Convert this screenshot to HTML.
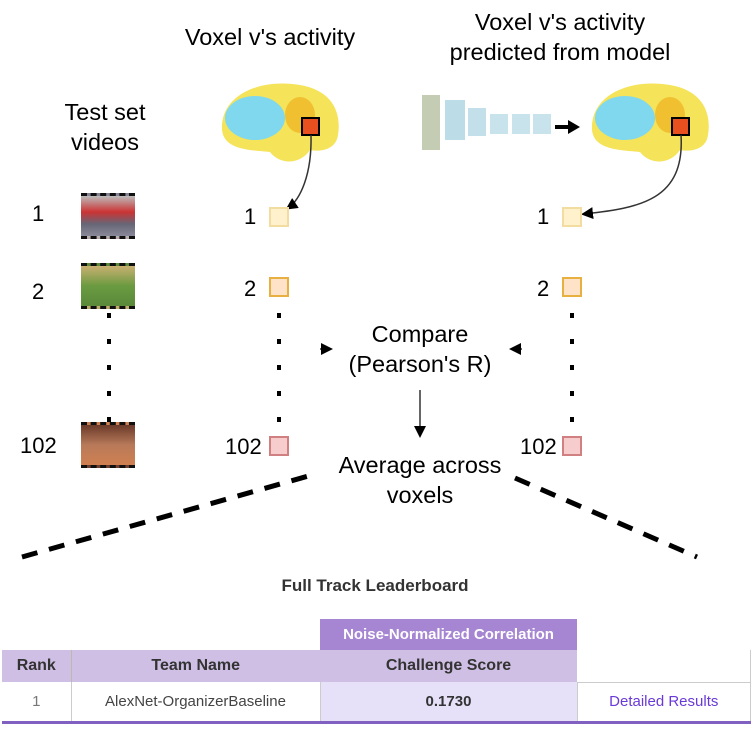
<!DOCTYPE html>
<html><head><style>
body{margin:0;width:756px;height:729px;background:#fff;position:relative;overflow:hidden;font-family:"Liberation Sans",sans-serif}
.t{position:absolute;font-size:23.5px;color:#000;text-align:center;line-height:30px}
.n{position:absolute;font-size:22px;color:#000}
.sq{position:absolute;width:16px;height:16px;border:2px solid}
.th{position:absolute;width:54px;height:46px;background:#555;border-top:3px dashed #111;border-bottom:3px dashed #111;box-sizing:border-box}
table{position:absolute;left:2px;top:619px;width:749px;border-collapse:collapse;font-size:15px;color:#333}
td{text-align:center;padding:0}
</style></head><body>
<div class="t" style="left:160px;top:22px;width:220px">Voxel v's activity</div>
<div class="t" style="left:410px;top:7px;width:300px">Voxel v's activity<br>predicted from model</div>
<div class="t" style="left:40px;top:97px;width:130px">Test set<br>videos</div>
<div class="t" style="left:310px;top:319px;width:220px">Compare<br>(Pearson's R)</div>
<div class="t" style="left:310px;top:450px;width:220px">Average across<br>voxels</div>

<svg width="756" height="620" style="position:absolute;left:0;top:0">
<defs><marker id="a" markerWidth="8" markerHeight="8" refX="6" refY="4" orient="auto"><path d="M0,0L8,4L0,8z" fill="#000"/></marker></defs>
<g>
<path d="M222,130 C220,95 260,78 300,85 C330,90 342,110 338,135 C336,150 320,152 310,150 C300,165 280,165 270,152 C250,150 224,150 222,130z" fill="#f5e35a"/>
<ellipse cx="255" cy="118" rx="30" ry="22" fill="#7fd8ee"/>
<ellipse cx="300" cy="115" rx="15" ry="18" fill="#f0c030"/>
<rect x="302" y="118" width="17" height="17" fill="#e85020" stroke="#000" stroke-width="2"/>
<path d="M592,130 C590,95 630,78 670,85 C700,90 712,110 708,135 C706,150 690,152 680,150 C670,165 650,165 640,152 C620,150 594,150 592,130z" fill="#f5e35a"/>
<ellipse cx="625" cy="118" rx="30" ry="22" fill="#7fd8ee"/>
<ellipse cx="670" cy="115" rx="15" ry="18" fill="#f0c030"/>
<rect x="672" y="118" width="17" height="17" fill="#e85020" stroke="#000" stroke-width="2"/>
<rect x="422" y="95" width="18" height="55" fill="#b5bfa0" opacity=".8"/>
<rect x="445" y="100" width="20" height="40" fill="#bcdde8"/>
<rect x="468" y="108" width="18" height="28" fill="#c3e0ea"/>
<rect x="490" y="114" width="18" height="20" fill="#c8e3ec"/>
<rect x="512" y="114" width="18" height="20" fill="#c8e3ec"/>
<rect x="533" y="114" width="18" height="20" fill="#c8e3ec"/>
<line x1="555" y1="127" x2="570" y2="127" stroke="#000" stroke-width="4"/>
<path d="M568,120 L580,127 L568,134z" fill="#000"/>
<path d="M311,135 C312,175 300,200 288,208" fill="none" stroke="#333" stroke-width="1.5" marker-end="url(#a)"/>
<path d="M681,135 C685,200 640,208 584,214" fill="none" stroke="#333" stroke-width="1.5" marker-end="url(#a)"/>
<line x1="420" y1="390" x2="420" y2="435" stroke="#333" stroke-width="1.5" marker-end="url(#a)"/>
<line x1="320" y1="349" x2="330" y2="349" stroke="#333" stroke-width="1.5" marker-end="url(#a)"/>
<line x1="522" y1="349" x2="512" y2="349" stroke="#333" stroke-width="1.5" marker-end="url(#a)"/>
<g fill="#000">
<rect x="107" y="313" width="4" height="5"/><rect x="107" y="339" width="4" height="5"/><rect x="107" y="365" width="4" height="5"/><rect x="107" y="391" width="4" height="5"/><rect x="107" y="417" width="4" height="5"/>
<rect x="277" y="313" width="4" height="5"/><rect x="277" y="339" width="4" height="5"/><rect x="277" y="365" width="4" height="5"/><rect x="277" y="391" width="4" height="5"/><rect x="277" y="417" width="4" height="5"/>
<rect x="570" y="313" width="4" height="5"/><rect x="570" y="339" width="4" height="5"/><rect x="570" y="365" width="4" height="5"/><rect x="570" y="391" width="4" height="5"/><rect x="570" y="417" width="4" height="5"/>
</g>
<line x1="22" y1="557" x2="312" y2="475" stroke="#000" stroke-width="5" stroke-dasharray="16,12"/>
<line x1="515" y1="478" x2="697" y2="557" stroke="#000" stroke-width="5" stroke-dasharray="16,12"/>
<text x="375" y="591" text-anchor="middle" font-size="17" font-weight="bold" fill="#333" font-family="Liberation Sans">Full Track Leaderboard</text>
</g>
</svg>

<div class="th" style="left:81px;top:193px;background:linear-gradient(#bbb,#c33 40%,#667 70%,#889)"></div>
<div class="th" style="left:81px;top:263px;background:linear-gradient(#c9b070,#6a9a40 50%,#5a8a3a)"></div>
<div class="th" style="left:81px;top:422px;background:linear-gradient(#6a3a2a,#b87a5a 50%,#d08050)"></div>
<div class="n" style="left:32px;top:201px">1</div>
<div class="n" style="left:32px;top:279px">2</div>
<div class="n" style="left:20px;top:433px">102</div>
<div class="n" style="left:244px;top:204px">1</div>
<div class="n" style="left:244px;top:276px">2</div>
<div class="n" style="left:225px;top:434px">102</div>
<div class="n" style="left:537px;top:204px">1</div>
<div class="n" style="left:537px;top:276px">2</div>
<div class="n" style="left:520px;top:434px">102</div>
<div class="sq" style="left:269px;top:207px;background:#fff1cc;border-color:#f3dca0"></div>
<div class="sq" style="left:269px;top:277px;background:#ffe3c8;border-color:#e8b040"></div>
<div class="sq" style="left:269px;top:436px;background:#f6cccc;border-color:#d08080"></div>
<div class="sq" style="left:562px;top:207px;background:#fff1cc;border-color:#f3dca0"></div>
<div class="sq" style="left:562px;top:277px;background:#ffe3c8;border-color:#e8b040"></div>
<div class="sq" style="left:562px;top:436px;background:#f6cccc;border-color:#d08080"></div>

<table>
<tr style="height:31px"><td style="width:69px"></td><td style="width:249px"></td><td style="width:257px;background:#a685d3;color:#fff;font-weight:bold">Noise-Normalized Correlation</td><td></td></tr>
<tr style="height:32px;font-weight:bold;font-size:16px"><td style="background:#cfbfe4;border-right:1px solid #bba">Rank</td><td style="background:#cfbfe4">Team Name</td><td style="background:#cfbfe4">Challenge Score</td><td style="border-bottom:1px solid #ccc;border-right:1px solid #ccc"></td></tr>
<tr style="height:40px;border-bottom:3px solid #8060c0"><td style="color:#777;border-right:1px solid #ccc">1</td><td style="color:#444;border-right:1px solid #ccc">AlexNet-OrganizerBaseline</td><td style="background:#e6e0f8;font-weight:bold">0.1730</td><td style="color:#6a3ad8;border-left:1px solid #ccc;border-right:1px solid #ccc">Detailed Results</td></tr>
</table>
</body></html>
